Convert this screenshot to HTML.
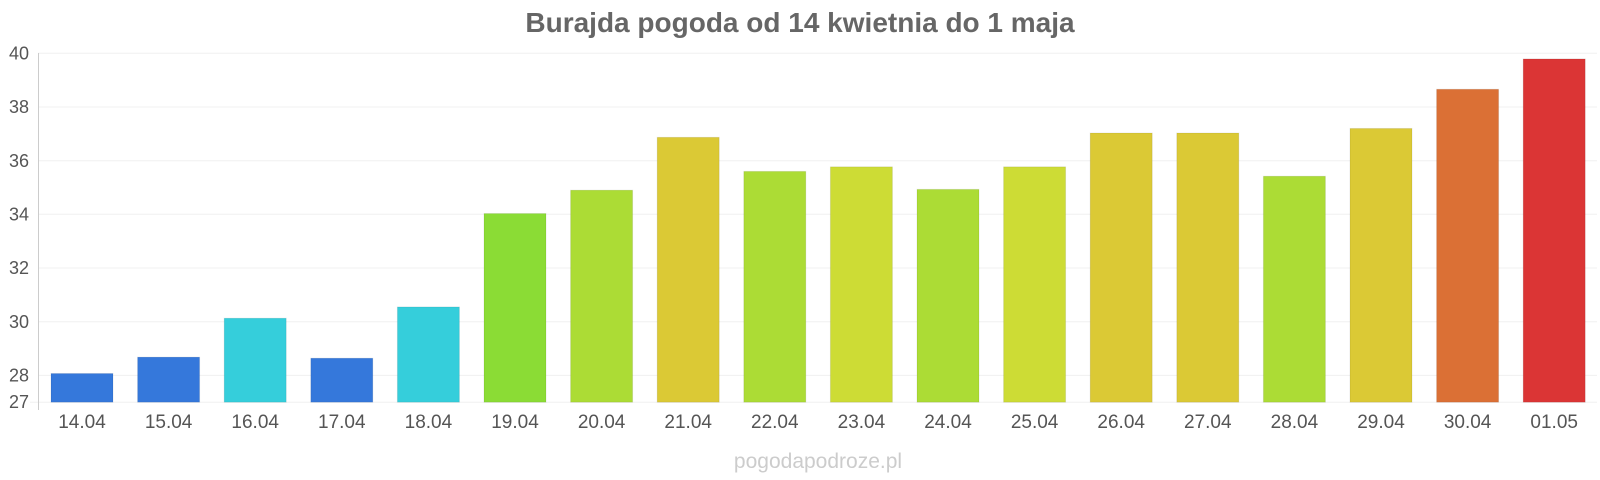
<!DOCTYPE html>
<html><head><meta charset="utf-8"><style>
html,body{margin:0;padding:0;background:#fff;}
svg{display:block;}
text{font-family:"Liberation Sans",Arial,sans-serif;}
</style></head><body>
<svg width="1600" height="480" xmlns="http://www.w3.org/2000/svg">
<text x="800" y="32" text-anchor="middle" font-size="28" font-weight="bold" fill="#666">Burajda pogoda od 14 kwietnia do 1 maja</text>
<g stroke="#f0f0f0" stroke-width="1">
<line x1="38" y1="53.3" x2="1597" y2="53.3"/>
<line x1="38" y1="107" x2="1597" y2="107"/>
<line x1="38" y1="160.7" x2="1597" y2="160.7"/>
<line x1="38" y1="214.3" x2="1597" y2="214.3"/>
<line x1="38" y1="268" x2="1597" y2="268"/>
<line x1="38" y1="321.7" x2="1597" y2="321.7"/>
<line x1="38" y1="375.4" x2="1597" y2="375.4"/>
<line x1="30" y1="402.2" x2="1597" y2="402.2"/>
</g>
<line x1="38.5" y1="53" x2="38.5" y2="410" stroke="#ccc" stroke-width="1"/>
<g font-size="18" fill="#555" text-anchor="end">
<text x="29" y="59.5">40</text>
<text x="29" y="113">38</text>
<text x="29" y="167">36</text>
<text x="29" y="220.5">34</text>
<text x="29" y="274">32</text>
<text x="29" y="328">30</text>
<text x="29" y="381.5">28</text>
<text x="29" y="408">27</text>
</g>
<g id="bars" stroke-width="1"></g>
<g id="labels" font-size="19" fill="#555" text-anchor="middle"></g>
<text x="818" y="468" text-anchor="middle" font-size="21" fill="#ccc">pogodapodroze.pl</text>
<script>
var vals=[28.07,28.68,30.13,28.64,30.55,34.03,34.9,36.87,35.6,35.77,34.93,35.77,37.03,37.03,35.42,37.2,38.66,39.79];
var labs=["14.04","15.04","16.04","17.04","18.04","19.04","20.04","21.04","22.04","23.04","24.04","25.04","26.04","27.04","28.04","29.04","30.04","01.05"];
var cols=["#3578db","#3578db","#35cedb","#3578db","#35cedb","#8bdc35","#acdc35","#dbc935","#acdc35","#cddc35","#acdc35","#cddc35","#dbc935","#dbc935","#acdc35","#dbc935","#db7035","#db3535"];
var ns="http://www.w3.org/2000/svg",b=document.getElementById("bars"),l=document.getElementById("labels");
for(var i=0;i<18;i++){
 var cx=82+i*86.6,y=53.3+(40-vals[i])*26.84;
 var r=document.createElementNS(ns,"rect");
 r.setAttribute("x",cx-31);r.setAttribute("y",y);r.setAttribute("width",62);r.setAttribute("height",402.2-y);
 r.setAttribute("fill",cols[i]);r.setAttribute("stroke","rgba(0,0,0,0.08)");b.appendChild(r);
 var t=document.createElementNS(ns,"text");t.setAttribute("x",cx);t.setAttribute("y",428);t.textContent=labs[i];l.appendChild(t);
}
</script>
</svg>
</body></html>
